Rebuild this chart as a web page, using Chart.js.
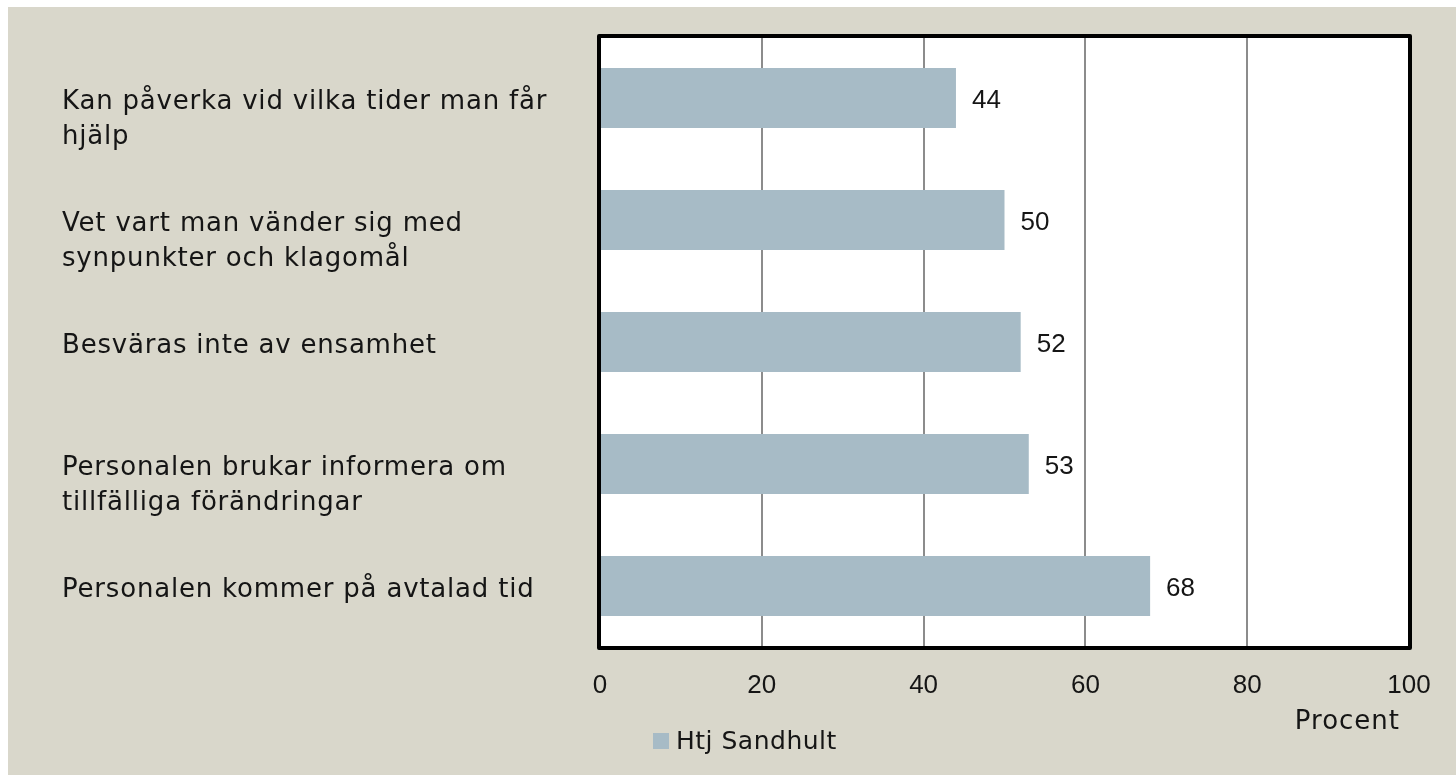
<!DOCTYPE html>
<html>
<head>
<meta charset="utf-8">
<script src="https://cdn.jsdelivr.net/npm/chart.js@4"></script>
<style>
html,body{margin:0;padding:0;background:#ffffff;}
#wrap{width:1456px;height:775px;position:relative;}
canvas{display:block;}
</style>
</head>
<body>
<div id="wrap"><canvas id="c" width="1456" height="775"></canvas></div>
<script>
// ---- data ----
const categories = [
  ["Kan påverka vid vilka tider man får", "hjälp"],
  ["Vet vart man vänder sig med", "synpunkter och klagomål"],
  ["Besväras inte av ensamhet"],
  ["Personalen brukar informera om", "tillfälliga förändringar"],
  ["Personalen kommer på avtalad tid"]
];
const seriesName = "Htj Sandhult";
const seriesValues = [44, 50, 52, 53, 68];
const xTicks = [0, 20, 40, 60, 80, 100];
const axisTitle = "Procent";

const FONT = "'DejaVu Sans', sans-serif";
const NUMFONT = "'Liberation Sans', Arial, sans-serif";
const TEXT = "#151515";
const BAR = "#a7bbc6";
const BG = "#d9d7cb";

const decor = {
  id: 'decor',
  beforeDraw(chart) {
    const ctx = chart.ctx;
    ctx.save();
    ctx.fillStyle = '#ffffff';
    ctx.fillRect(0, 0, chart.width, chart.height);
    ctx.fillStyle = BG;
    ctx.fillRect(8, 7, chart.width - 8, chart.height - 7);
    const a = chart.chartArea;
    ctx.fillStyle = '#ffffff';
    ctx.fillRect(a.left, a.top, a.right - a.left, a.bottom - a.top);
    ctx.restore();
  },
  afterDraw(chart) {
    const ctx = chart.ctx;
    const a = chart.chartArea;
    ctx.save();
    // plot border
    ctx.strokeStyle = '#000000';
    ctx.lineWidth = 4;
    ctx.lineJoin = 'round';
    ctx.strokeRect(a.left - 1, a.top - 1, a.right - a.left + 2, a.bottom - a.top + 2);
    // category labels
    const yScale = chart.scales.y;
    ctx.fillStyle = TEXT;
    ctx.font = "26px " + FONT;
    ctx.letterSpacing = "0.8px";
    ctx.textAlign = 'left';
    ctx.textBaseline = 'middle';
    categories.forEach((lines, i) => {
      const yc = yScale.getPixelForValue(i) + 4;
      lines.forEach((ln, j) => ctx.fillText(ln, 62, yc + j * 35));
    });
    // data labels
    const meta = chart.getDatasetMeta(0);
    ctx.font = "26px " + NUMFONT;
    ctx.letterSpacing = "0px";
    meta.data.forEach((bar, i) => {
      ctx.fillText(String(seriesValues[i]), bar.x + 16, bar.y + 3);
    });
    // x tick labels
    const xScale = chart.scales.x;
    ctx.textAlign = 'center';
    xTicks.forEach(v => {
      ctx.fillText(String(v), xScale.getPixelForValue(v), a.bottom + 39);
    });
    // axis title
    ctx.font = "26px " + FONT;
    ctx.letterSpacing = "1px";
    ctx.textAlign = 'right';
    ctx.fillText(axisTitle, a.right - 9, 722);
    // legend
    ctx.fillStyle = BAR;
    ctx.fillRect(653, 733, 16, 16);
    ctx.fillStyle = TEXT;
    ctx.textAlign = 'left';
    ctx.font = "25px " + FONT;
    ctx.letterSpacing = "0.5px";
    ctx.fillText(seriesName, 676, 742);
    ctx.restore();
  }
};

new Chart(document.getElementById('c'), {
  type: 'bar',
  data: {
    labels: categories,
    datasets: [{
      label: seriesName,
      data: seriesValues,
      backgroundColor: BAR,
      borderWidth: 0,
      barPercentage: 0.49,
      categoryPercentage: 1.0
    }]
  },
  options: {
    indexAxis: 'y',
    responsive: false,
    animation: false,
    devicePixelRatio: 1,
    layout: { padding: { left: 600, right: 47, top: 37, bottom: 0 } },
    plugins: { legend: { display: false }, tooltip: { enabled: false } },
    scales: {
      x: {
        min: 0, max: 100,
        afterBuildTicks(scale) { scale.ticks = xTicks.map(v => ({ value: v })); },
        afterFit(scale) { scale.height = 128; },
        grid: { color: '#8c8c8c', lineWidth: 2, drawTicks: false },
        border: { display: false },
        ticks: { display: false }
      },
      y: {
        display: false
      }
    }
  },
  plugins: [decor]
});
</script>
</body>
</html>
